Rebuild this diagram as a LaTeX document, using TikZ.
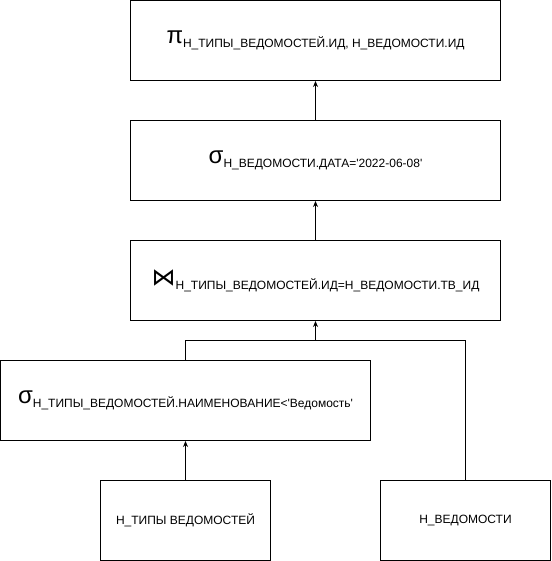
\documentclass[tikz,border=0pt]{standalone}
\usepackage{fontspec}
\setmainfont{Liberation Sans}
\newfontfamily\symfont{DejaVu Sans}
\usetikzlibrary{arrows.meta}

% operator symbol with a lowered subscript
\newcommand{\opnode}[2]{{\fontsize{24pt}{26pt}\selectfont #1}\raisebox{-4pt}{\fontsize{12pt}{14pt}\selectfont #2}}
\newcommand{\sq}{\textquotesingle}

\tikzset{
    opbox/.style={draw, line width=1pt, minimum width=370pt, minimum height=80pt, inner sep=0pt},
    relbox/.style={draw, line width=1pt, minimum width=170pt, minimum height=80pt, inner sep=0pt, font=\fontsize{12pt}{14pt}\selectfont},
    flow/.style={line width=1pt, -{Stealth[length=6pt, width=5pt]}}
}

\begin{document}
\begin{tikzpicture}[x=1pt, y=1pt]
    \useasboundingbox (-0.5, 0.5) rectangle (550.5, -560.5);
    % operators
    \node[opbox] (proj) at (315, -40) {\opnode{π}{Н\_ТИПЫ\_ВЕДОМОСТЕЙ.ИД, Н\_ВЕДОМОСТИ.ИД}};
    \node[opbox] (seldate) at (315, -160) {\opnode{σ}{Н\_ВЕДОМОСТИ.ДАТА=\sq2022-06-08\sq}};
    \node[opbox] (join) at (315, -280) {\opnode{\symfont ⋈}{Н\_ТИПЫ\_ВЕДОМОСТЕЙ.ИД=Н\_ВЕДОМОСТИ.ТВ\_ИД}};
    \node[opbox] (selname) at (185, -400) {\opnode{σ}{Н\_ТИПЫ\_ВЕДОМОСТЕЙ.НАИМЕНОВАНИЕ<\sq Ведомость\sq}};
    % relations
    \node[relbox] (types) at (185, -520) {Н\_ТИПЫ ВЕДОМОСТЕЙ};
    \node[relbox] (sheets) at (465, -520) {Н\_ВЕДОМОСТИ};
    \coordinate (merge) at (315, -340);
    % edges
    \draw[flow] (types.north) -- (selname.south);
    \draw[line width=1pt] (selname.north) |- (merge);
    \draw[line width=1pt] (sheets.north) |- (merge);
    \draw[flow] (merge) -- (join.south);
    \draw[flow] (join.north) -- (seldate.south);
    \draw[flow] (seldate.north) -- (proj.south);
\end{tikzpicture}
\end{document}
